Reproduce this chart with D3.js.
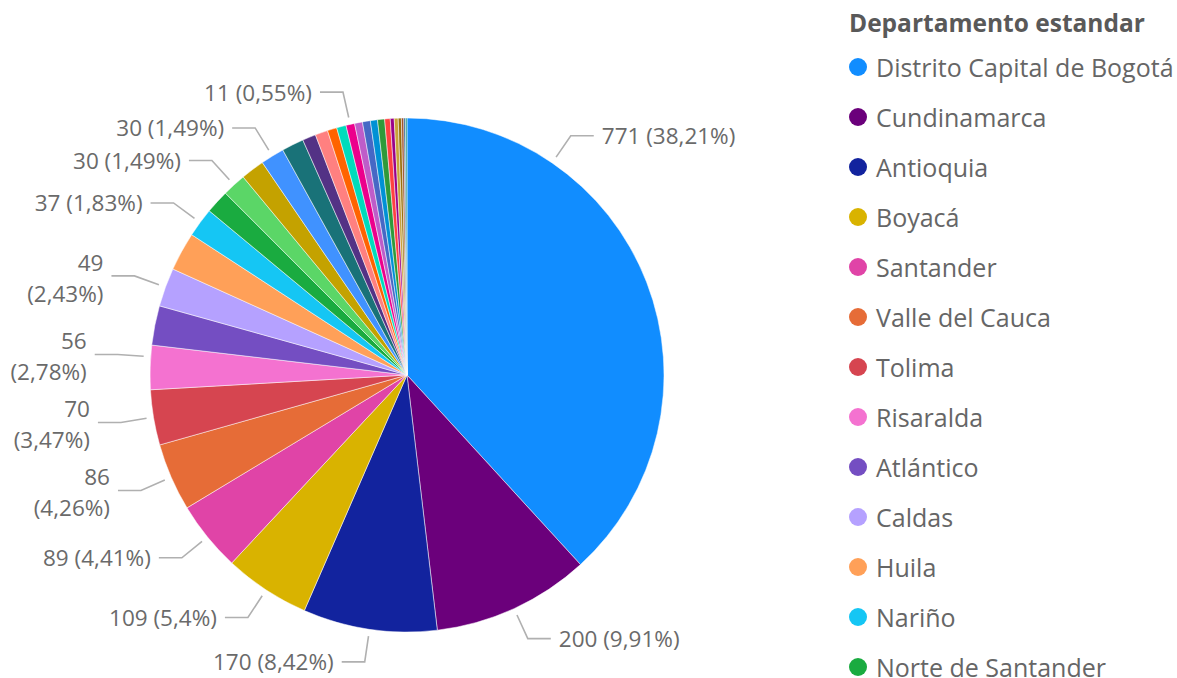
<!DOCTYPE html>
<html>
<head>
<meta charset="utf-8">
<script src="https://cdn.jsdelivr.net/npm/d3@7"></script>
<style>
  body { margin: 0; background: #ffffff; }
  svg { display: block; font-family: "Open Sans", "Noto Sans", sans-serif; }
</style>
</head>
<body>
<svg id="chart" width="1177" height="678"></svg>
<script>
// ---- data ----
const categories = [
  "Distrito Capital de Bogotá", "Cundinamarca", "Antioquia", "Boyacá", "Santander",
  "Valle del Cauca", "Tolima", "Risaralda", "Atlántico", "Caldas", "Huila", "Nariño",
  "Norte de Santander", "Meta", "Quindío", "Cauca", "Bolívar", "Cesar", "Magdalena",
  "Córdoba", "Casanare", "Sucre", "La Guajira", "Caquetá", "Chocó", "Putumayo",
  "Arauca", "Amazonas", "San Andrés", "Guaviare", "Vaupés", "Vichada", "Guainía"
];
const values = [
  771, 200, 170, 109, 89,
  86, 70, 56, 50, 49, 49, 37,
  30, 30, 30, 30, 28, 17, 16,
  12, 12, 11, 10, 10, 9, 9,
  7, 5, 5, 4, 3, 2, 2
];
const colors = [
  "#118DFF", "#6B007B", "#12239E", "#D9B300", "#E044A7",
  "#E66C37", "#D64550", "#F472D0", "#744EC2", "#B5A1FF", "#FFA058", "#15C6F4",
  "#1AAB40", "#5BD667", "#C4A200", "#4092FF", "#197278", "#533285", "#FF8080",
  "#FF6300", "#00DBBC", "#EC008C", "#BE5DC9", "#4668C5", "#0091D5", "#2E9A3A",
  "#FF4141", "#99008A", "#C8A23A", "#99700A", "#A0522D", "#255A91", "#1F9A85"
];
const labeledCategories = [
  "Distrito Capital de Bogotá", "Cundinamarca", "Antioquia", "Boyacá", "Santander",
  "Valle del Cauca", "Tolima", "Risaralda", "Caldas", "Nariño", "Meta", "Cauca", "Sucre"
];
const legendTitle = "Departamento estandar";
const legendVisibleCount = 13;

// ---- layout ----
const cx = 407, cy = 375, R = 257;
const RL = R + 33; // elbow radius
const svg = d3.select("#chart");
const data = categories.map((c, i) => ({ name: c, value: values[i], color: colors[i] }));
const total = d3.sum(values);

const pie = d3.pie().value(d => d.value).sort(null);
const arcs = pie(data);
const arc = d3.arc().innerRadius(0).outerRadius(R);

const g = svg.append("g").attr("transform", `translate(${cx},${cy})`);
g.selectAll("path.slice")
  .data(arcs)
  .join("path")
  .attr("class", "slice")
  .attr("d", arc)
  .attr("fill", d => d.data.color)
  .attr("stroke", "#ffffff")
  .attr("stroke-width", 0.5);

const pctFmt = v => {
  let s = d3.format(".2f")(v * 100);
  s = s.replace(/\.?0+$/, "");
  return s.replace(".", ",");
};
const pt = (a, r) => [Math.sin(a) * r, -Math.cos(a) * r];

const labelFont = 22.5;
const labelColor = "#6a6a6a";
const lab = g.append("g");

// measure helper
const meas = lab.append("text").attr("font-size", labelFont).attr("visibility", "hidden");
const measure = s => { meas.text(s); return meas.node().getComputedTextLength(); };

// natural label positions
const labels = arcs.filter(d => labeledCategories.includes(d.data.name)).map(d => {
  const span = d.endAngle - d.startAngle;
  const a = span > 2 ? d.startAngle + span * 0.25 : (d.startAngle + d.endAngle) / 2;
  const right = Math.sin(a) >= 0;
  const p2 = pt(a, RL);
  const x3 = p2[0] + (right ? 23 : -23);
  const tx = x3 + (right ? 8 : -8);
  const valStr = String(d.data.value);
  const pctStr = "(" + pctFmt(d.data.value / total) + "%)";
  const w = measure(valStr + " " + pctStr);
  const wrap = !right && cx + tx - w < 4;
  return { d, a, right, y: p2[1], valStr, pctStr, wrap, half: wrap ? 32 : 14 };
});
meas.remove();

// simple collision pass on the left side (bottom to top)
const left = labels.filter(l => !l.right).sort((p, q) => q.y - p.y);
for (let i = 1; i < left.length; i++) {
  const prev = left[i - 1], cur = left[i];
  const sep = prev.half + cur.half + 4;
  if (cur.y > prev.y - sep) {
    cur.y = prev.y - sep;
    // slide the anchor along the slice so the leader stays radial
    const na = 2 * Math.PI - Math.acos(Math.max(-1, Math.min(1, -cur.y / RL)));
    cur.a = Math.max(cur.d.startAngle, Math.min(cur.d.endAngle, na));
  }
}

labels.forEach(l => {
  const p1 = pt(l.a, R + 7);
  const p2 = [(l.right ? 1 : -1) * Math.sqrt(Math.max(0, RL * RL - l.y * l.y)), l.y];
  const p3 = [p2[0] + (l.right ? 23 : -23), p2[1]];
  lab.append("polyline")
    .attr("points", [p1, p2, p3].map(p => p.join(",")).join(" "))
    .attr("fill", "none")
    .attr("stroke", "#b0b0b0")
    .attr("stroke-width", 1.6);
  const tx = p3[0] + (l.right ? 8 : -8);
  const t = lab.append("text")
    .attr("x", tx).attr("y", l.y)
    .attr("text-anchor", l.right ? "start" : "end")
    .attr("dominant-baseline", "central")
    .attr("font-size", labelFont)
    .attr("fill", labelColor);
  if (l.wrap) {
    t.append("tspan").attr("x", tx).attr("y", l.y - 14).text(l.valStr);
    t.append("tspan").attr("x", tx).attr("y", l.y + 17).text(l.pctStr);
  } else {
    t.text(l.valStr + " " + l.pctStr);
  }
});

// ---- legend ----
const leg = svg.append("g");
leg.append("text")
  .attr("x", 849).attr("y", 22)
  .attr("dominant-baseline", "central")
  .attr("font-size", 24.5)
  .attr("font-weight", "bold")
  .attr("fill", "#595959")
  .text(legendTitle);

data.slice(0, legendVisibleCount).forEach((d, i) => {
  const y = 67 + i * 50;
  leg.append("circle").attr("cx", 858).attr("cy", y).attr("r", 9).attr("fill", d.color);
  leg.append("text")
    .attr("x", 876).attr("y", y)
    .attr("dominant-baseline", "central")
    .attr("font-size", 25)
    .attr("fill", "#666666")
    .text(d.name);
});
</script>
</body>
</html>
